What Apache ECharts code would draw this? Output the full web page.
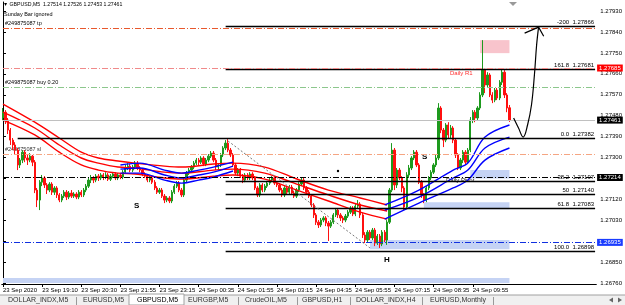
<!DOCTYPE html>
<html><head><meta charset="utf-8">
<script src="https://cdn.jsdelivr.net/npm/echarts@6/dist/echarts.min.js"></script>
<style>html,body{margin:0;padding:0;background:#fff;overflow:hidden}#c{width:625px;height:305px}</style>
</head><body><div id="c"></div>
<script>
// ---- axis tick labels ----
const tickLabels = ['23 Sep 2020','23 Sep 19:10','23 Sep 20:30','23 Sep 21:55','23 Sep 23:15','24 Sep 00:35','24 Sep 01:55','24 Sep 03:15','24 Sep 04:35','24 Sep 05:55','24 Sep 07:15','24 Sep 08:35','24 Sep 09:55'];
const priceTicks = [1.26760,1.26850,1.26940,1.27030,1.27120,1.27210,1.27300,1.27390,1.27480,1.27570,1.27660,1.27750,1.27840,1.27930];

// ---- candles (GBPUSD M5) ----
const opens = [1.27470,1.27495,1.27461,1.27418,1.27375,1.27354,1.27332,1.27268,1.27289,1.27323,1.27298,1.27289,1.27306,1.27280,1.27160,1.27117,1.27194,1.27212,1.27182,1.27160,
1.27186,1.27151,1.27169,1.27139,1.27117,1.27134,1.27151,1.27130,1.27147,1.27134,1.27143,1.27130,1.27151,1.27139,1.27160,1.27177,1.27203,1.27212,1.27203,1.27220,
1.27212,1.27225,1.27216,1.27225,1.27207,1.27220,1.27229,1.27212,1.27225,1.27216,1.27237,1.27255,1.27263,1.27246,1.27259,1.27276,1.27255,1.27246,1.27229,1.27220,
1.27203,1.27212,1.27194,1.27169,1.27151,1.27160,1.27134,1.27117,1.27126,1.27113,1.27151,1.27177,1.27190,1.27160,1.27139,1.27203,1.27233,1.27246,1.27259,1.27276,
1.27289,1.27280,1.27298,1.27272,1.27289,1.27306,1.27319,1.27289,1.27259,1.27268,1.27311,1.27341,1.27362,1.27332,1.27311,1.27268,1.27233,1.27246,1.27220,1.27203,
1.27225,1.27212,1.27229,1.27212,1.27169,1.27139,1.27182,1.27160,1.27177,1.27190,1.27203,1.27212,1.27190,1.27182,1.27160,1.27139,1.27169,1.27151,1.27173,1.27147,
1.27134,1.27160,1.27186,1.27203,1.27169,1.27151,1.27134,1.27096,1.27053,1.27022,1.27010,1.27031,1.27040,1.27018,1.27005,1.27022,1.27053,1.27074,1.27053,1.27040,
1.27031,1.27048,1.27065,1.27083,1.27057,1.27091,1.27100,1.27053,1.26967,1.26945,1.26979,1.26954,1.26988,1.26932,1.26962,1.26928,1.26979,1.26945,1.27022,1.27160,
1.27332,1.27182,1.27246,1.27212,1.27169,1.27087,1.27225,1.27255,1.27298,1.27323,1.27268,1.27194,1.27139,1.27117,1.27169,1.27212,1.27237,1.27268,1.27298,1.27513,
1.27418,1.27375,1.27440,1.27397,1.27427,1.27375,1.27311,1.27255,1.27289,1.27323,1.27280,1.27332,1.27461,1.27495,1.27470,1.27513,1.27569,1.27676,1.27612,1.27655,
1.27569,1.27547,1.27590,1.27556,1.27624,1.27667,1.27569,1.27514];
const closes = [1.27495,1.27461,1.27418,1.27375,1.27354,1.27332,1.27268,1.27289,1.27323,1.27298,1.27289,1.27306,1.27280,1.27160,1.27117,1.27194,1.27212,1.27182,1.27160,1.27186,
1.27151,1.27169,1.27139,1.27117,1.27134,1.27151,1.27130,1.27147,1.27134,1.27143,1.27130,1.27151,1.27139,1.27160,1.27177,1.27203,1.27212,1.27203,1.27220,1.27212,
1.27225,1.27216,1.27225,1.27207,1.27220,1.27229,1.27212,1.27225,1.27216,1.27237,1.27255,1.27263,1.27246,1.27259,1.27276,1.27255,1.27246,1.27229,1.27220,1.27203,
1.27212,1.27194,1.27169,1.27151,1.27160,1.27134,1.27117,1.27126,1.27113,1.27151,1.27177,1.27190,1.27160,1.27139,1.27203,1.27233,1.27246,1.27259,1.27276,1.27289,
1.27280,1.27298,1.27272,1.27289,1.27306,1.27319,1.27289,1.27259,1.27268,1.27311,1.27341,1.27362,1.27332,1.27311,1.27268,1.27233,1.27246,1.27220,1.27203,1.27225,
1.27212,1.27229,1.27212,1.27169,1.27139,1.27182,1.27160,1.27177,1.27190,1.27203,1.27212,1.27190,1.27182,1.27160,1.27139,1.27169,1.27151,1.27173,1.27147,1.27134,
1.27160,1.27186,1.27203,1.27169,1.27151,1.27134,1.27096,1.27053,1.27022,1.27010,1.27031,1.27040,1.27018,1.27005,1.27022,1.27053,1.27074,1.27053,1.27040,1.27031,
1.27048,1.27065,1.27083,1.27057,1.27091,1.27100,1.27053,1.26967,1.26945,1.26979,1.26954,1.26988,1.26932,1.26962,1.26928,1.26979,1.26945,1.27022,1.27160,1.27332,
1.27182,1.27246,1.27212,1.27169,1.27087,1.27225,1.27255,1.27298,1.27323,1.27268,1.27194,1.27139,1.27117,1.27169,1.27212,1.27237,1.27268,1.27298,1.27513,1.27418,
1.27375,1.27440,1.27397,1.27427,1.27375,1.27311,1.27255,1.27289,1.27323,1.27280,1.27332,1.27461,1.27495,1.27470,1.27513,1.27569,1.27676,1.27612,1.27655,1.27569,
1.27547,1.27590,1.27556,1.27624,1.27667,1.27569,1.27513,1.27461];
const lows = [1.27461,1.27444,1.27401,1.27354,1.27332,1.27311,1.27246,1.27255,1.27276,1.27280,1.27268,1.27280,1.27263,1.27147,1.27087,1.27074,1.27177,1.27169,1.27143,1.27151,
1.27139,1.27139,1.27126,1.27108,1.27108,1.27126,1.27117,1.27121,1.27126,1.27126,1.27121,1.27121,1.27130,1.27130,1.27151,1.27169,1.27190,1.27190,1.27194,1.27199,
1.27203,1.27203,1.27207,1.27199,1.27199,1.27212,1.27203,1.27203,1.27207,1.27207,1.27229,1.27246,1.27237,1.27237,1.27250,1.27246,1.27237,1.27220,1.27212,1.27194,
1.27194,1.27186,1.27160,1.27143,1.27143,1.27126,1.27104,1.27108,1.27104,1.27104,1.27143,1.27169,1.27151,1.27130,1.27130,1.27194,1.27225,1.27237,1.27250,1.27268,
1.27268,1.27272,1.27263,1.27263,1.27280,1.27298,1.27280,1.27246,1.27246,1.27259,1.27302,1.27332,1.27323,1.27302,1.27259,1.27225,1.27220,1.27212,1.27190,1.27194,
1.27203,1.27203,1.27203,1.27160,1.27130,1.27130,1.27151,1.27151,1.27169,1.27182,1.27194,1.27182,1.27173,1.27151,1.27130,1.27130,1.27143,1.27143,1.27139,1.27126,
1.27126,1.27151,1.27177,1.27160,1.27143,1.27126,1.27087,1.27040,1.27010,1.26997,1.27001,1.27022,1.27005,1.26941,1.26997,1.27014,1.27044,1.27040,1.27027,1.27018,
1.27022,1.27040,1.27057,1.27048,1.27048,1.27083,1.27040,1.26954,1.26932,1.26936,1.26945,1.26945,1.26919,1.26924,1.26911,1.26919,1.26936,1.26924,1.27014,1.27151,
1.27160,1.27169,1.27203,1.27151,1.27074,1.27078,1.27212,1.27246,1.27289,1.27259,1.27186,1.27126,1.27104,1.27108,1.27160,1.27203,1.27229,1.27259,1.27289,1.27405,
1.27345,1.27366,1.27384,1.27384,1.27362,1.27298,1.27246,1.27246,1.27276,1.27268,1.27272,1.27323,1.27448,1.27452,1.27461,1.27504,1.27560,1.27577,1.27599,1.27560,
1.27534,1.27538,1.27547,1.27547,1.27612,1.27556,1.27495,1.27453];
const highs = [1.27513,1.27504,1.27470,1.27427,1.27384,1.27366,1.27341,1.27298,1.27332,1.27332,1.27311,1.27319,1.27311,1.27289,1.27169,1.27203,1.27225,1.27220,1.27190,1.27194,
1.27194,1.27177,1.27177,1.27147,1.27143,1.27160,1.27160,1.27156,1.27160,1.27151,1.27151,1.27160,1.27160,1.27169,1.27186,1.27212,1.27225,1.27220,1.27229,1.27229,
1.27233,1.27233,1.27237,1.27233,1.27229,1.27237,1.27237,1.27233,1.27233,1.27246,1.27268,1.27276,1.27272,1.27268,1.27285,1.27285,1.27263,1.27255,1.27237,1.27229,
1.27220,1.27220,1.27203,1.27177,1.27169,1.27169,1.27143,1.27134,1.27134,1.27160,1.27186,1.27199,1.27199,1.27169,1.27212,1.27242,1.27255,1.27268,1.27285,1.27298,
1.27298,1.27306,1.27306,1.27298,1.27315,1.27328,1.27328,1.27298,1.27276,1.27319,1.27349,1.27375,1.27379,1.27341,1.27319,1.27276,1.27255,1.27255,1.27229,1.27233,
1.27233,1.27237,1.27237,1.27220,1.27177,1.27190,1.27190,1.27186,1.27199,1.27212,1.27220,1.27220,1.27199,1.27190,1.27169,1.27177,1.27177,1.27182,1.27182,1.27156,
1.27169,1.27194,1.27212,1.27212,1.27177,1.27160,1.27143,1.27104,1.27061,1.27031,1.27040,1.27048,1.27048,1.27027,1.27031,1.27061,1.27083,1.27083,1.27061,1.27048,
1.27057,1.27074,1.27091,1.27091,1.27100,1.27117,1.27108,1.27061,1.26979,1.26988,1.26988,1.26997,1.26997,1.26971,1.26971,1.26988,1.26988,1.27031,1.27169,1.27362,
1.27341,1.27255,1.27255,1.27220,1.27177,1.27237,1.27268,1.27306,1.27332,1.27332,1.27276,1.27203,1.27147,1.27177,1.27220,1.27246,1.27276,1.27311,1.27534,1.27521,
1.27427,1.27448,1.27452,1.27440,1.27435,1.27384,1.27319,1.27298,1.27332,1.27332,1.27341,1.27474,1.27504,1.27504,1.27521,1.27581,1.27805,1.27685,1.27667,1.27663,
1.27581,1.27599,1.27599,1.27633,1.27685,1.27676,1.27577,1.27526];

// ---- moving-average ribbons (sampled at bar indices) ----
const redIdx   = [0,13,23,32,39,47,54,66,73,86,94,107,119,133,146,157];
const redUpper = [1.27530,1.27452,1.27384,1.27323,1.27298,1.27285,1.27276,1.27263,1.27259,1.27272,1.27276,1.27259,1.27212,1.27160,1.27126,1.27096];
const redMid   = [1.27495,1.27427,1.27354,1.27298,1.27276,1.27259,1.27255,1.27237,1.27233,1.27246,1.27250,1.27233,1.27190,1.27139,1.27096,1.27070];
const redLower = [1.27461,1.27397,1.27323,1.27268,1.27246,1.27233,1.27229,1.27212,1.27207,1.27220,1.27225,1.27207,1.27164,1.27113,1.27065,1.27035];
const blueAIdx   = [48,56,66,73,80,86,94];
const blueAUpper = [1.27268,1.27276,1.27246,1.27233,1.27246,1.27259,1.27280];
const blueAMid   = [1.27250,1.27255,1.27225,1.27212,1.27225,1.27237,1.27263];
const blueALower = [1.27233,1.27233,1.27203,1.27190,1.27203,1.27216,1.27242];
const blueBIdx   = [156,170,184,190,197,207];
const blueBUpper = [1.27096,1.27160,1.27246,1.27276,1.27388,1.27440];
const blueBMid   = [1.27074,1.27130,1.27212,1.27246,1.27341,1.27388];
const blueBLower = [1.27035,1.27104,1.27169,1.27203,1.27289,1.27341];

// ---- horizontal objects ----
const fibNames  = ['-200','161.8','0.0','38.2','50','61.8','100.0'];
const fibPrices = [1.27866,1.27681,1.27382,1.27197,1.27140,1.27083,1.26898];
const lastPrice = 1.27461;
const tpPrice = 1.27855, buyPrice = 1.27603, slPrice = 1.27315;
const dailyR1 = 1.27685, dailyPivot = 1.27214, weeklyS2 = 1.26935;
const trendLine = [[92,1.27371],[150,1.26911]];
const arrowPath = [[208.7,1.27470],[210.7,1.27427],[212.6,1.27388],[214.4,1.27440],[216.0,1.27526],[217.2,1.27655],[218.1,1.27784],[218.9,1.27861]];
const arrowHead = [[213.2,1.27835],[218.9,1.27861],[221.0,1.27822]];

const N = 243;
const cats = Array.from({length: N}, (_, i) => String(i));
const candles = opens.map((o, i) => [o, closes[i], lows[i], highs[i]]);
const pts = (idx, vals) => idx.map((x, k) => [x, vals[k]]);
const DD = [6, 2, 1, 2];
const FONT = 'Liberation Sans';

const fibStart = [91, 91, 6, 91, 91, 91, 91];
const markLines = [];
fibPrices.forEach((p, k) => {
  markLines.push([
    {coord: [fibStart[k], p], lineStyle: {color: '#000', width: 1.3, type: 'solid'},
     label: {show: true, position: 'insideEndTop', distance: 1, formatter: fibNames[k] + '  ' + p.toFixed(5), fontSize: 6, color: '#000', fontFamily: FONT}},
    {coord: [N - 1, p]}
  ]);
});
function full(v, color, type, width, box) {
  return [{coord: [0, v], lineStyle: {color: color, type: type, width: width},
    label: box ? {show: true, position: 'end', distance: 2, formatter: v.toFixed(5), backgroundColor: box, color: '#fff',
      fontSize: 6, fontFamily: FONT, padding: [1, 2, 0, 2]} : {show: false}}, {coord: [N - 1, v]}];
}
markLines.push(full(tpPrice, '#e8582d', DD, 1, null));
markLines.push(full(dailyR1, '#f08a8a', DD, 1, '#ff0000'));
markLines.push(full(buyPrice, '#8cc78c', DD, 1, null));
markLines.push(full(lastPrice, '#c0c0c0', 'solid', 1, '#000'));
markLines.push(full(slPrice, '#f5a582', DD, 1, null));
markLines.push(full(dailyPivot, '#000', DD, 1, '#000'));
markLines.push(full(weeklyS2, '#1030e0', DD, 1, '#1a3cff'));
markLines.push([{coord: trendLine[0], lineStyle: {color: '#777', type: [2, 2], width: 1}, label: {show: false}}, {coord: trendLine[1]}]);

const boxBlue = '#c5d3f4';
const areas = [
  [{coord: [195, 1.27805], itemStyle: {color: '#f8c4cc'}}, {coord: [207, 1.27749]}],
  [{coord: [191, 1.27246], itemStyle: {color: boxBlue}}, {coord: [207, 1.27210]}],
  [{coord: [172, 1.27108], itemStyle: {color: boxBlue}}, {coord: [207, 1.27078]}],
  [{coord: [150, 1.26945], itemStyle: {color: boxBlue}}, {coord: [207, 1.26906]}],
  [{coord: [0, 1.26782], itemStyle: {color: boxBlue}}, {coord: [207, 1.26760]}]
];

function maSeries(idx, vals, color) {
  return {type: 'line', data: pts(idx, vals), smooth: 0.35, symbol: 'none', silent: true,
    lineStyle: {color: color, width: 1.4}, z: 4};
}

const labelIdx = (i) => i % 16 === 0 && i / 16 < tickLabels.length;

const option = {
  animation: false,
  textStyle: {fontFamily: FONT},
  grid: {left: 0, right: 28, top: 2, bottom: 21, containLabel: false},
  xAxis: [{
    type: 'category', data: cats, boundaryGap: true,
    axisLine: {show: true, lineStyle: {color: '#000', width: 1}},
    axisTick: {show: true, alignWithLabel: true, interval: (i) => labelIdx(i), length: 3, lineStyle: {color: '#000'}},
    axisLabel: {show: true, interval: (i) => labelIdx(i), formatter: (v, i) => tickLabels[i / 16] || '', align: 'left',
      fontSize: 6, color: '#000', margin: 3, fontFamily: FONT},
    splitLine: {show: false}
  }, {
    type: 'value', min: -0.5, max: N - 0.5, show: false
  }],
  yAxis: {
    type: 'value', position: 'right', min: 1.26756, max: 1.27969, scale: true,
    axisLine: {show: true, lineStyle: {color: '#000', width: 1}},
    axisTick: {show: true, length: 3, customValues: priceTicks, lineStyle: {color: '#000'}},
    axisLabel: {customValues: priceTicks, formatter: (v) => v.toFixed(5), fontSize: 6, color: '#000', margin: 4, fontFamily: FONT},
    splitLine: {show: false}
  },
  series: [
    {type: 'candlestick', data: candles, barWidth: 1.8, z: 3,
      itemStyle: {color: '#1e9a1e', color0: '#ff1010', borderColor: '#1e9a1e', borderColor0: '#ff1010', borderWidth: 1},
      markArea: {silent: true, data: areas, z: 1},
      markLine: {silent: true, symbol: ['none', 'none'], data: markLines, animation: false}
    },
    maSeries(redIdx, redUpper, '#ff0000'),
    maSeries(redIdx, redMid, '#ff0000'),
    maSeries(redIdx, redLower, '#ff0000'),
    maSeries(blueAIdx, blueAUpper, '#0000ff'),
    maSeries(blueAIdx, blueAMid, '#0000ff'),
    maSeries(blueAIdx, blueALower, '#0000ff'),
    maSeries(blueBIdx, blueBUpper, '#0000ff'),
    maSeries(blueBIdx, blueBMid, '#0000ff'),
    maSeries(blueBIdx, blueBLower, '#0000ff'),
    {type: 'line', xAxisIndex: 1, data: arrowPath, smooth: 0.4, symbol: 'none', silent: true, lineStyle: {color: '#000', width: 1.2}, z: 6},
    {type: 'line', xAxisIndex: 1, data: arrowHead, smooth: false, symbol: 'none', silent: true, lineStyle: {color: '#000', width: 1.2}, z: 6}
  ],
  graphic: [
    {type: 'text', left: 3, top: 2, style: {text: '▼ GBPUSD,M5  1.27514 1.27526 1.27453 1.27461', fontSize: 5.2, fill: '#000', fontFamily: FONT}},
    {type: 'text', left: 4, top: 11, style: {text: 'Sunday Bar ignored', fontSize: 5.5, fill: '#000', fontFamily: FONT}},
    {type: 'text', left: 5, top: 20, style: {text: '#249875087 tp', fontSize: 5.5, fill: '#000', fontFamily: FONT}},
    {type: 'text', left: 5, top: 79, style: {text: '#249875087 buy 0.20', fontSize: 5.5, fill: '#000', fontFamily: FONT}},
    {type: 'text', left: 5, top: 146, style: {text: '#249875087 sl', fontSize: 5.5, fill: '#333', fontFamily: FONT}},
    {type: 'text', left: 450, top: 70, style: {text: 'Daily R1', fontSize: 6, fill: '#ff3030', fontFamily: FONT}},
    {type: 'text', left: 446, top: 177, style: {text: 'Daily Pivot', fontSize: 6, fill: '#222', fontFamily: FONT}},
    {type: 'text', left: 421, top: 241, style: {text: 'Weekly S2', fontSize: 7, fill: '#1a3cff', fontFamily: FONT}},
    {type: 'text', left: 134, top: 202, style: {text: 'S', fontSize: 8, fill: '#000', fontWeight: 'bold', fontFamily: FONT}},
    {type: 'text', left: 422, top: 153, style: {text: 'S', fontSize: 8, fill: '#000', fontWeight: 'bold', fontFamily: FONT}},
    {type: 'text', left: 384, top: 256, style: {text: 'H', fontSize: 8, fill: '#000', fontWeight: 'bold', fontFamily: FONT}},
    {type: 'circle', shape: {cx: 338, cy: 171, r: 1.2}, style: {fill: '#000'}},
    {type: 'polygon', shape: {points: [[509, 2], [517, 2], [513, 6]]}, style: {fill: '#999'}},
    // tab bar
    {type: 'rect', shape: {x: 0, y: 295, width: 625, height: 10}, style: {fill: '#f0f0f0'}},
    {type: 'line', shape: {x1: 0, y1: 295, x2: 625, y2: 295}, style: {stroke: '#a0a0a0', lineWidth: 1}},
    {type: 'rect', shape: {x: 129, y: 294, width: 55, height: 11}, style: {fill: '#fff', stroke: '#a0a0a0', lineWidth: 1}},
    {type: 'text', left: 8, top: 297, style: {text: 'DOLLAR_INDX,M5', fontSize: 7, fill: '#333', fontFamily: FONT}},
    {type: 'text', left: 83, top: 297, style: {text: 'EURUSD,M5', fontSize: 7, fill: '#333', fontFamily: FONT}},
    {type: 'text', left: 137, top: 297, style: {text: 'GBPUSD,M5', fontSize: 7, fill: '#000', fontFamily: FONT}},
    {type: 'text', left: 188, top: 297, style: {text: 'EURGBP,M5', fontSize: 7, fill: '#333', fontFamily: FONT}},
    {type: 'text', left: 245, top: 297, style: {text: 'CrudeOIL,M5', fontSize: 7, fill: '#333', fontFamily: FONT}},
    {type: 'text', left: 302, top: 297, style: {text: 'GBPUSD,H1', fontSize: 7, fill: '#333', fontFamily: FONT}},
    {type: 'text', left: 356, top: 297, style: {text: 'DOLLAR_INDX,H4', fontSize: 7, fill: '#333', fontFamily: FONT}},
    {type: 'text', left: 430, top: 297, style: {text: 'EURUSD,Monthly', fontSize: 7, fill: '#333', fontFamily: FONT}},
    {type: 'line', shape: {x1: 76.5, y1: 297, x2: 76.5, y2: 305}, style: {stroke: '#999'}},
    {type: 'line', shape: {x1: 238.5, y1: 297, x2: 238.5, y2: 305}, style: {stroke: '#999'}},
    {type: 'line', shape: {x1: 297.5, y1: 297, x2: 297.5, y2: 305}, style: {stroke: '#999'}},
    {type: 'line', shape: {x1: 350.5, y1: 297, x2: 350.5, y2: 305}, style: {stroke: '#999'}},
    {type: 'line', shape: {x1: 422.5, y1: 297, x2: 422.5, y2: 305}, style: {stroke: '#999'}},
    {type: 'line', shape: {x1: 493.5, y1: 297, x2: 493.5, y2: 305}, style: {stroke: '#999'}},
    {type: 'polygon', shape: {points: [[609, 300], [613, 297.5], [613, 302.5]]}, style: {fill: '#666'}},
    {type: 'polygon', shape: {points: [[622, 300], [618, 297.5], [618, 302.5]]}, style: {fill: '#666'}}
  ]
};
const chart = echarts.init(document.getElementById('c'));
chart.setOption(option);
</script></body></html>
